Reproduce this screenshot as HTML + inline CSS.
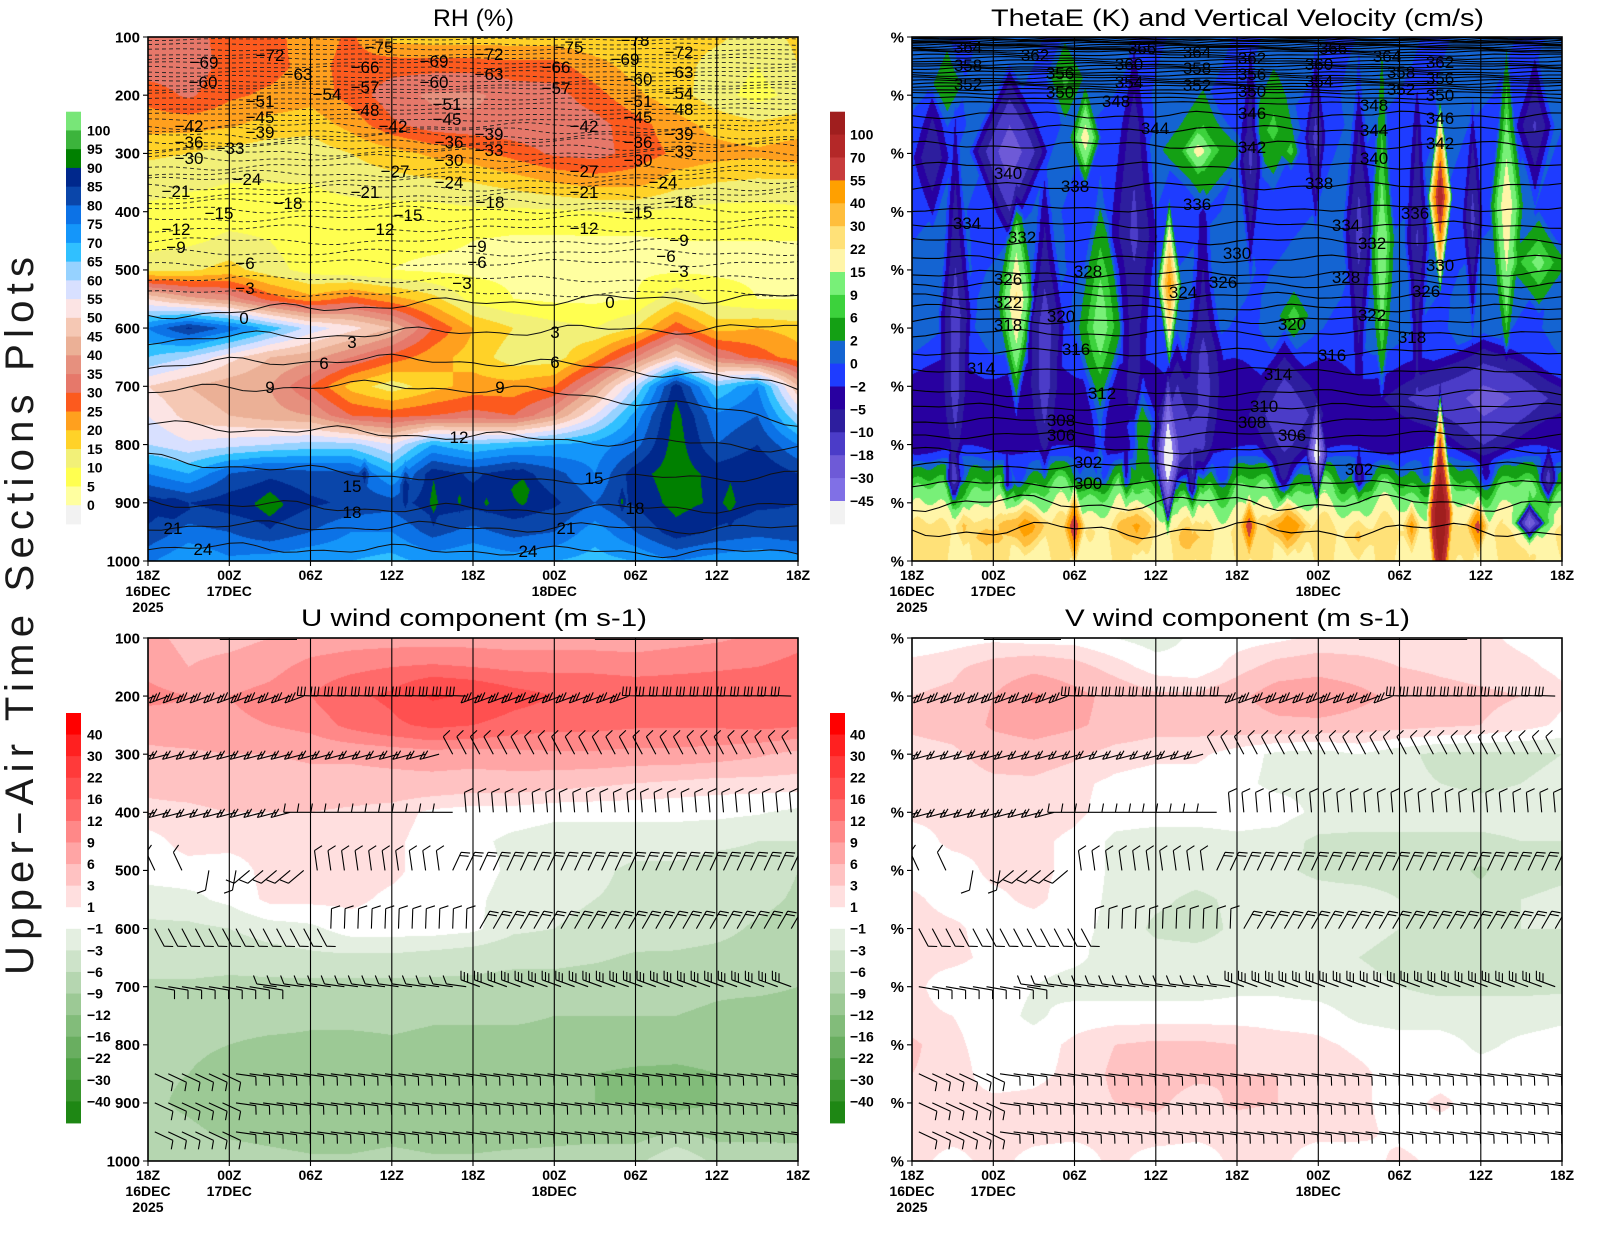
<!DOCTYPE html>
<html><head><meta charset="utf-8">
<style>
html,body{margin:0;padding:0;background:#fff;}
#wrap{position:relative;width:1600px;height:1236px;overflow:hidden;background:#fff;}
canvas{position:absolute;}
#ov{position:absolute;left:0;top:0;}
text{font-family:"Liberation Sans",sans-serif;}
</style></head><body>
<div id="wrap">
<canvas id="c1" width="650" height="524" style="left:148px;top:37px;background:linear-gradient(to bottom,#e6786a 0%,#ffa01e 28%,#ffff50 45%,#fce4e4 55%,#1496fa 75%,#0a46aa 92%)"></canvas>
<canvas id="c2" width="650" height="524" style="left:912px;top:37px;background:linear-gradient(to bottom,#1464d2 0%,#2d1e9e 60%,#3cd23c 86%,#ffe178 92%)"></canvas>
<canvas id="c3" width="650" height="523" style="left:148px;top:638px;background:linear-gradient(to bottom,#ffa5a5 0%,#ff6a6a 12%,#ffc2c2 35%,#ffffff 50%,#cde3c9 62%,#9cc995 85%)"></canvas>
<canvas id="c4" width="650" height="523" style="left:912px;top:638px;background:linear-gradient(to bottom,#ffffff 0%,#ffa5a5 12%,#ffdfdf 35%,#e4efe1 55%,#ffdfdf 85%)"></canvas>
<svg id="ov" width="1600" height="1236" xmlns="http://www.w3.org/2000/svg">
<defs>
<clipPath id="k1"><rect x="148" y="37" width="650" height="524"/></clipPath>
<clipPath id="k2"><rect x="912" y="37" width="650" height="524"/></clipPath>
<clipPath id="k3"><rect x="148" y="638" width="650" height="523"/></clipPath>
<clipPath id="k4"><rect x="912" y="638" width="650" height="523"/></clipPath>
</defs>
<g id="g1" clip-path="url(#k1)"></g>
<g id="g2" clip-path="url(#k2)"></g>
<g id="g3" clip-path="url(#k3)"></g>
<g id="g4" clip-path="url(#k4)"></g>
<g id="grid" stroke="#000" stroke-width="1.1"></g>
<g fill="none" stroke="#000" stroke-width="1.6">
<rect x="148" y="37" width="650" height="524"/>
<rect x="912" y="37" width="650" height="524"/>
<rect x="148" y="638" width="650" height="523"/>
<rect x="912" y="638" width="650" height="523"/>
</g>
<g id="cbars"></g>

<!-- titles -->
<g font-size="24" fill="#000">
<text x="433" y="26" textLength="81" lengthAdjust="spacingAndGlyphs">RH (%)</text>
<text x="991" y="26" textLength="493" lengthAdjust="spacingAndGlyphs">ThetaE (K) and Vertical Velocity (cm/s)</text>
<text x="301" y="626" textLength="346" lengthAdjust="spacingAndGlyphs">U wind component (m s-1)</text>
<text x="1065" y="626" textLength="345" lengthAdjust="spacingAndGlyphs">V wind component (m s-1)</text>
</g>
<text transform="translate(33,975) rotate(-90)" font-size="40" fill="#1a1a1a" textLength="718" lengthAdjust="spacing">Upper−Air Time Sections Plots</text>

<!-- y axis labels -->
<g font-size="15" font-weight="bold" text-anchor="end" fill="#000">
<text x="140" y="37" dy=".35em">100</text><text x="140" y="95.2" dy=".35em">200</text><text x="140" y="153.4" dy=".35em">300</text><text x="140" y="211.7" dy=".35em">400</text><text x="140" y="269.9" dy=".35em">500</text><text x="140" y="328.1" dy=".35em">600</text><text x="140" y="386.3" dy=".35em">700</text><text x="140" y="444.6" dy=".35em">800</text><text x="140" y="502.8" dy=".35em">900</text><text x="140" y="561" dy=".35em">1000</text>
<text x="140" y="638" dy=".35em">100</text><text x="140" y="696.1" dy=".35em">200</text><text x="140" y="754.2" dy=".35em">300</text><text x="140" y="812.3" dy=".35em">400</text><text x="140" y="870.4" dy=".35em">500</text><text x="140" y="928.6" dy=".35em">600</text><text x="140" y="986.7" dy=".35em">700</text><text x="140" y="1044.8" dy=".35em">800</text><text x="140" y="1102.9" dy=".35em">900</text><text x="140" y="1161" dy=".35em">1000</text>
<text x="904" y="37" dy=".35em">%</text><text x="904" y="95.2" dy=".35em">%</text><text x="904" y="153.4" dy=".35em">%</text><text x="904" y="211.7" dy=".35em">%</text><text x="904" y="269.9" dy=".35em">%</text><text x="904" y="328.1" dy=".35em">%</text><text x="904" y="386.3" dy=".35em">%</text><text x="904" y="444.6" dy=".35em">%</text><text x="904" y="502.8" dy=".35em">%</text><text x="904" y="561" dy=".35em">%</text>
<text x="904" y="638" dy=".35em">%</text><text x="904" y="696.1" dy=".35em">%</text><text x="904" y="754.2" dy=".35em">%</text><text x="904" y="812.3" dy=".35em">%</text><text x="904" y="870.4" dy=".35em">%</text><text x="904" y="928.6" dy=".35em">%</text><text x="904" y="986.7" dy=".35em">%</text><text x="904" y="1044.8" dy=".35em">%</text><text x="904" y="1102.9" dy=".35em">%</text><text x="904" y="1161" dy=".35em">%</text>
</g>

<!-- x axis labels -->
<g font-size="14" font-weight="bold" text-anchor="middle" fill="#000">
<text x="148" y="580">18Z</text><text x="229.25" y="580">00Z</text><text x="310.5" y="580">06Z</text><text x="391.75" y="580">12Z</text><text x="473" y="580">18Z</text><text x="554.25" y="580">00Z</text><text x="635.5" y="580">06Z</text><text x="716.75" y="580">12Z</text><text x="798" y="580">18Z</text>
<text x="148" y="596">16DEC</text><text x="229.25" y="596">17DEC</text><text x="554.25" y="596">18DEC</text><text x="148" y="612">2025</text>
<text x="912" y="580">18Z</text><text x="993.25" y="580">00Z</text><text x="1074.5" y="580">06Z</text><text x="1155.75" y="580">12Z</text><text x="1237" y="580">18Z</text><text x="1318.25" y="580">00Z</text><text x="1399.5" y="580">06Z</text><text x="1480.75" y="580">12Z</text><text x="1562" y="580">18Z</text>
<text x="912" y="596">16DEC</text><text x="993.25" y="596">17DEC</text><text x="1318.25" y="596">18DEC</text><text x="912" y="612">2025</text>
<text x="148" y="1180">18Z</text><text x="229.25" y="1180">00Z</text><text x="310.5" y="1180">06Z</text><text x="391.75" y="1180">12Z</text><text x="473" y="1180">18Z</text><text x="554.25" y="1180">00Z</text><text x="635.5" y="1180">06Z</text><text x="716.75" y="1180">12Z</text><text x="798" y="1180">18Z</text>
<text x="148" y="1196">16DEC</text><text x="229.25" y="1196">17DEC</text><text x="554.25" y="1196">18DEC</text><text x="148" y="1212">2025</text>
<text x="912" y="1180">18Z</text><text x="993.25" y="1180">00Z</text><text x="1074.5" y="1180">06Z</text><text x="1155.75" y="1180">12Z</text><text x="1237" y="1180">18Z</text><text x="1318.25" y="1180">00Z</text><text x="1399.5" y="1180">06Z</text><text x="1480.75" y="1180">12Z</text><text x="1562" y="1180">18Z</text>
<text x="912" y="1196">16DEC</text><text x="993.25" y="1196">17DEC</text><text x="1318.25" y="1196">18DEC</text><text x="912" y="1212">2025</text>
</g>

<!-- colorbar labels -->
<g font-size="14" font-weight="bold" fill="#000">
<text x="87" y="130.4" dy=".35em">100</text><text x="87" y="149.2" dy=".35em">95</text><text x="87" y="167.9" dy=".35em">90</text><text x="87" y="186.7" dy=".35em">85</text><text x="87" y="205.4" dy=".35em">80</text><text x="87" y="224.1" dy=".35em">75</text><text x="87" y="242.9" dy=".35em">70</text><text x="87" y="261.6" dy=".35em">65</text><text x="87" y="280.4" dy=".35em">60</text><text x="87" y="299.1" dy=".35em">55</text><text x="87" y="317.8" dy=".35em">50</text><text x="87" y="336.6" dy=".35em">45</text><text x="87" y="355.3" dy=".35em">40</text><text x="87" y="374.1" dy=".35em">35</text><text x="87" y="392.8" dy=".35em">30</text><text x="87" y="411.5" dy=".35em">25</text><text x="87" y="430.3" dy=".35em">20</text><text x="87" y="449" dy=".35em">15</text><text x="87" y="467.8" dy=".35em">10</text><text x="87" y="486.5" dy=".35em">5</text><text x="87" y="505.2" dy=".35em">0</text>
<text x="850" y="134.6" dy=".35em">100</text><text x="850" y="157.5" dy=".35em">70</text><text x="850" y="180.4" dy=".35em">55</text><text x="850" y="203.3" dy=".35em">40</text><text x="850" y="226.2" dy=".35em">30</text><text x="850" y="249.1" dy=".35em">22</text><text x="850" y="272" dy=".35em">15</text><text x="850" y="294.9" dy=".35em">9</text><text x="850" y="317.8" dy=".35em">6</text><text x="850" y="340.7" dy=".35em">2</text><text x="850" y="363.6" dy=".35em">0</text><text x="850" y="386.5" dy=".35em">−2</text><text x="850" y="409.4" dy=".35em">−5</text><text x="850" y="432.3" dy=".35em">−10</text><text x="850" y="455.2" dy=".35em">−18</text><text x="850" y="478.1" dy=".35em">−30</text><text x="850" y="501" dy=".35em">−45</text>
<text x="87" y="734.6" dy=".35em">40</text><text x="87" y="756.2" dy=".35em">30</text><text x="87" y="777.7" dy=".35em">22</text><text x="87" y="799.3" dy=".35em">16</text><text x="87" y="820.9" dy=".35em">12</text><text x="87" y="842.5" dy=".35em">9</text><text x="87" y="864.1" dy=".35em">6</text><text x="87" y="885.7" dy=".35em">3</text><text x="87" y="907.2" dy=".35em">1</text><text x="87" y="928.8" dy=".35em">−1</text><text x="87" y="950.4" dy=".35em">−3</text><text x="87" y="972" dy=".35em">−6</text><text x="87" y="993.6" dy=".35em">−9</text><text x="87" y="1015.1" dy=".35em">−12</text><text x="87" y="1036.7" dy=".35em">−16</text><text x="87" y="1058.3" dy=".35em">−22</text><text x="87" y="1079.9" dy=".35em">−30</text><text x="87" y="1101.4" dy=".35em">−40</text>
<text x="850" y="734.6" dy=".35em">40</text><text x="850" y="756.2" dy=".35em">30</text><text x="850" y="777.7" dy=".35em">22</text><text x="850" y="799.3" dy=".35em">16</text><text x="850" y="820.9" dy=".35em">12</text><text x="850" y="842.5" dy=".35em">9</text><text x="850" y="864.1" dy=".35em">6</text><text x="850" y="885.7" dy=".35em">3</text><text x="850" y="907.2" dy=".35em">1</text><text x="850" y="928.8" dy=".35em">−1</text><text x="850" y="950.4" dy=".35em">−3</text><text x="850" y="972" dy=".35em">−6</text><text x="850" y="993.6" dy=".35em">−9</text><text x="850" y="1015.1" dy=".35em">−12</text><text x="850" y="1036.7" dy=".35em">−16</text><text x="850" y="1058.3" dy=".35em">−22</text><text x="850" y="1079.9" dy=".35em">−30</text><text x="850" y="1101.4" dy=".35em">−40</text>
</g>

<!-- RH contour labels -->
<g font-size="17" text-anchor="middle" fill="#000" clip-path="url(#k1)">
<text x="204" y="62" dy=".35em">−69</text><text x="203" y="82" dy=".35em">−60</text><text x="270" y="55" dy=".35em">−72</text><text x="298" y="74" dy=".35em">−63</text><text x="327" y="94" dy=".35em">−54</text>
<text x="379" y="47" dy=".35em">−75</text><text x="365" y="67" dy=".35em">−66</text><text x="365" y="87" dy=".35em">−57</text><text x="365" y="110" dy=".35em">−48</text>
<text x="434" y="61" dy=".35em">−69</text><text x="434" y="82" dy=".35em">−60</text><text x="447" y="104" dy=".35em">−51</text><text x="447" y="119" dy=".35em">−45</text><text x="393" y="126" dy=".35em">−42</text><text x="449" y="142" dy=".35em">−36</text><text x="449" y="160" dy=".35em">−30</text>
<text x="489" y="54" dy=".35em">−72</text><text x="489" y="74" dy=".35em">−63</text><text x="489" y="134" dy=".35em">−39</text><text x="489" y="150" dy=".35em">−33</text>
<text x="569" y="47" dy=".35em">−75</text><text x="556" y="67" dy=".35em">−66</text><text x="556" y="88" dy=".35em">−57</text><text x="584" y="126" dy=".35em">−42</text><text x="584" y="171" dy=".35em">−27</text><text x="584" y="192" dy=".35em">−21</text><text x="584" y="228" dy=".35em">−12</text>
<text x="635" y="40" dy=".35em">−78</text><text x="625" y="59" dy=".35em">−69</text><text x="638" y="79" dy=".35em">−60</text><text x="638" y="101" dy=".35em">−51</text><text x="638" y="117" dy=".35em">−45</text><text x="638" y="142" dy=".35em">−36</text><text x="638" y="160" dy=".35em">−30</text><text x="638" y="212" dy=".35em">−15</text>
<text x="679" y="52" dy=".35em">−72</text><text x="679" y="72" dy=".35em">−63</text><text x="679" y="93" dy=".35em">−54</text><text x="679" y="109" dy=".35em">−48</text><text x="679" y="134" dy=".35em">−39</text><text x="679" y="151" dy=".35em">−33</text><text x="663" y="182" dy=".35em">−24</text><text x="679" y="202" dy=".35em">−18</text><text x="679" y="240" dy=".35em">−9</text><text x="666" y="256" dy=".35em">−6</text><text x="679" y="271" dy=".35em">−3</text>
<text x="189" y="126" dy=".35em">−42</text><text x="189" y="142" dy=".35em">−36</text><text x="189" y="158" dy=".35em">−30</text><text x="230" y="148" dy=".35em">−33</text><text x="260" y="101" dy=".35em">−51</text><text x="260" y="117" dy=".35em">−45</text><text x="260" y="132" dy=".35em">−39</text>
<text x="176" y="191" dy=".35em">−21</text><text x="247" y="179" dy=".35em">−24</text><text x="288" y="203" dy=".35em">−18</text><text x="219" y="213" dy=".35em">−15</text><text x="176" y="229" dy=".35em">−12</text><text x="176" y="247" dy=".35em">−9</text><text x="245" y="263" dy=".35em">−6</text><text x="245" y="288" dy=".35em">−3</text>
<text x="244" y="318" dy=".35em">0</text><text x="352" y="342" dy=".35em">3</text><text x="324" y="363" dy=".35em">6</text><text x="270" y="387" dy=".35em">9</text>
<text x="395" y="171" dy=".35em">−27</text><text x="365" y="192" dy=".35em">−21</text><text x="408" y="215" dy=".35em">−15</text><text x="380" y="229" dy=".35em">−12</text>
<text x="449" y="182" dy=".35em">−24</text><text x="490" y="202" dy=".35em">−18</text><text x="477" y="246" dy=".35em">−9</text><text x="477" y="262" dy=".35em">−6</text><text x="462" y="283" dy=".35em">−3</text>
<text x="500" y="387" dy=".35em">9</text><text x="459" y="437" dy=".35em">12</text><text x="352" y="486" dy=".35em">15</text><text x="352" y="512" dy=".35em">18</text><text x="173" y="528" dy=".35em">21</text><text x="203" y="549" dy=".35em">24</text>
<text x="610" y="302" dy=".35em">0</text><text x="555" y="332" dy=".35em">3</text><text x="555" y="362" dy=".35em">6</text><text x="594" y="478" dy=".35em">15</text><text x="635" y="508" dy=".35em">18</text><text x="566" y="528" dy=".35em">21</text><text x="528" y="551" dy=".35em">24</text>
</g>

<!-- ThetaE labels -->
<g font-size="17" text-anchor="middle" fill="#000" clip-path="url(#k2)">
<text x="968" y="47" dy=".35em">364</text><text x="968" y="65" dy=".35em">358</text><text x="968" y="84" dy=".35em">352</text>
<text x="1035" y="55" dy=".35em">362</text><text x="1060" y="73" dy=".35em">356</text><text x="1060" y="92" dy=".35em">350</text><text x="1116" y="101" dy=".35em">348</text>
<text x="1142" y="48" dy=".35em">366</text><text x="1129" y="64" dy=".35em">360</text><text x="1129" y="82" dy=".35em">354</text>
<text x="1197" y="52" dy=".35em">364</text><text x="1197" y="68" dy=".35em">358</text><text x="1197" y="85" dy=".35em">352</text><text x="1155" y="128" dy=".35em">344</text>
<text x="1252" y="58" dy=".35em">362</text><text x="1252" y="74" dy=".35em">356</text><text x="1252" y="91" dy=".35em">350</text><text x="1252" y="113" dy=".35em">346</text><text x="1252" y="147" dy=".35em">342</text>
<text x="1333" y="48" dy=".35em">366</text><text x="1319" y="64" dy=".35em">360</text><text x="1319" y="81" dy=".35em">354</text><text x="1319" y="183" dy=".35em">338</text>
<text x="1387" y="56" dy=".35em">364</text><text x="1401" y="72" dy=".35em">358</text><text x="1401" y="89" dy=".35em">352</text><text x="1374" y="105" dy=".35em">348</text><text x="1374" y="130" dy=".35em">344</text><text x="1374" y="158" dy=".35em">340</text>
<text x="1440" y="62" dy=".35em">362</text><text x="1440" y="78" dy=".35em">356</text><text x="1440" y="95" dy=".35em">350</text><text x="1440" y="118" dy=".35em">346</text><text x="1440" y="143" dy=".35em">342</text><text x="1415" y="213" dy=".35em">336</text>
<text x="1008" y="173" dy=".35em">340</text><text x="1075" y="186" dy=".35em">338</text><text x="1197" y="204" dy=".35em">336</text><text x="967" y="223" dy=".35em">334</text><text x="1022" y="237" dy=".35em">332</text>
<text x="1346" y="225" dy=".35em">334</text><text x="1372" y="243" dy=".35em">332</text><text x="1237" y="253" dy=".35em">330</text><text x="1440" y="265" dy=".35em">330</text>
<text x="1088" y="271" dy=".35em">328</text><text x="1346" y="277" dy=".35em">328</text><text x="1008" y="279" dy=".35em">326</text><text x="1223" y="282" dy=".35em">326</text><text x="1426" y="291" dy=".35em">326</text><text x="1183" y="292" dy=".35em">324</text>
<text x="1008" y="302" dy=".35em">322</text><text x="1372" y="315" dy=".35em">322</text><text x="1061" y="316" dy=".35em">320</text><text x="1292" y="324" dy=".35em">320</text><text x="1008" y="325" dy=".35em">318</text><text x="1412" y="337" dy=".35em">318</text>
<text x="1076" y="349" dy=".35em">316</text><text x="1332" y="355" dy=".35em">316</text><text x="981" y="368" dy=".35em">314</text><text x="1278" y="374" dy=".35em">314</text><text x="1102" y="393" dy=".35em">312</text><text x="1264" y="406" dy=".35em">310</text>
<text x="1061" y="420" dy=".35em">308</text><text x="1252" y="422" dy=".35em">308</text><text x="1061" y="435" dy=".35em">306</text><text x="1292" y="435" dy=".35em">306</text><text x="1088" y="462" dy=".35em">302</text><text x="1359" y="469" dy=".35em">302</text><text x="1088" y="483" dy=".35em">300</text>
</g>
</svg>
</div>
<script>
(function(){
var NS='http://www.w3.org/2000/svg';
function hex(h){return [parseInt(h.substr(1,2),16),parseInt(h.substr(3,2),16),parseInt(h.substr(5,2),16)];}
function gridF(G){return function(t,p){var fx=t/3,fy=(p-100)/50;var i=Math.max(0,Math.min(15,Math.floor(fx))),j=Math.max(0,Math.min(17,Math.floor(fy)));var ax=fx-i,ay=fy-j;return G[j][i]*(1-ax)*(1-ay)+G[j][i+1]*ax*(1-ay)+G[j+1][i]*(1-ax)*ay+G[j+1][i+1]*ax*ay;};}
function blobF(B){return function(t,p){var v=0;for(var k=0;k<B.length;k++){var b=B[k];var d=Math.abs(t-b[0])/b[2]+Math.abs(p-b[1])/b[3];if(d<1)v+=b[4]*(1-d);}return v;};}
function paint(id,f,th,cols){
  var c=document.getElementById(id);if(!c.getContext)return;var ctx=c.getContext('2d');
  var W=c.width,H=c.height;var img=ctx.createImageData(W,H);var d=img.data;
  var rgb=cols.map(hex);
  for(var y=0;y<H;y++){var p=100+(y+0.5)/H*900;
    for(var x=0;x<W;x++){var t=(x+0.5)/W*48;var v=f(t,p);
      var k=0;while(k<th.length&&v>=th[k])k++;
      var cc=rgb[k];var o=(y*W+x)*4;d[o]=cc[0];d[o+1]=cc[1];d[o+2]=cc[2];d[o+3]=255;}}
  ctx.putImageData(img,0,0);
}
/* ---------- RH ---------- */
var RH=[
[32,32,28,27,22,26,18,17,17,17,17,16,17,17,16,13,16],
[33,33,28,27,23,27,28,28,28,27,27,22,18,17,13,10,15],
[27,31,26,24,22,27,33,36,36,33,32,27,21,17,12,8,12],
[22,22,21,18,17,22,29,33,34,34,34,32,27,22,18,16,17],
[16,15,13,12,12,15,18,21,23,27,31,32,28,24,22,21,23],
[12,11,10,10,10,12,13,14,15,17,20,22,22,17,15,14,14],
[9,8,8,8,8,8,8,8,9,9,9,10,10,9,8,8,9],
[8,9,11,10,7,6,6,6,5,4,4,4,4,5,5,5,5],
[13,14,17,12,8,6,5,4,4,4,4,4,4,4,4,4,4],
[50,42,38,28,22,27,22,17,8,5,4,4,5,14,8,5,5],
[75,86,78,68,58,52,45,30,20,15,12,10,15,28,18,20,18],
[65,60,52,45,42,35,28,22,18,12,12,22,35,50,35,28,22],
[50,45,42,40,30,18,12,18,22,22,25,40,60,88,65,75,45],
[55,48,45,42,40,30,28,30,32,30,40,55,72,92,76,80,60],
[60,56,58,60,62,62,55,70,65,68,70,72,78,93,80,85,75],
[75,70,80,84,82,82,70,88,84,88,82,75,88,93,88,90,85],
[88,85,88,90,86,84,82,88,87,89,86,80,86,92,89,86,85],
[84,78,80,84,80,75,75,82,78,82,80,72,80,88,84,82,84],
[76,70,74,72,70,70,68,72,70,72,70,68,70,75,72,70,72]];
var RHB=[[1.9,912,1.8,30,5],[9,905,1.5,45,5],[16,850,0.5,35,10],[19,870,0.5,50,10],[21.1,900,0.5,60,6],[23,895,0.35,25,5],[25,900,0.35,18,5],[27.7,878,1.3,50,5],[35,898,0.35,30,8],[43,900,0.8,50,5]];
var rg=gridF(RH),rb=blobF(RHB);
paint('c1',function(t,p){return rg(t,p)+rb(t,p);},[0,5,10,15,20,25,30,35,40,45,50,55,60,65,70,75,80,85,90,95,100],
['#f2f2f2','#ffffa0','#ffff50','#f2f078','#ffd228','#ffa01e','#fc5a1e','#e6786a','#e6907e','#ebb096','#f5c8b4','#fce4e4','#d8e0ff','#96d2ff','#30c0ff','#1496fa','#0c72e6','#0a46aa','#00288c','#008000','#3cb43c','#78e678']);
/* ---------- ThetaE / w ---------- */
var TB=[0.5,0.5,0.3,-0.5,-0.5,-0.5,-0.5,0.3,0.8,0.8,0.5,-1,-3.5,-4,-3,2.5,13,24,21];
var TEB=[[1.5,307,1.5,130,-8],[2.6,181,1.6,90,6],[7.2,297,3,160,-24],[3.2,579,1.3,380,-14],[7.7,552,1.4,230,22],[9.8,599,1.6,300,-14],[11.3,171,1.5,90,7],[12.8,273,1.2,90,20],[13.9,599,1.8,300,11],[16.4,443,2,380,-13],[17,769,1.5,110,9],[21.5,294,3.5,120,11],[21.1,297,1.2,45,10],[19,524,0.9,150,48],[18.9,823,0.9,150,-60],[19.6,796,2.2,200,-15],[21.5,647,1.5,330,-12],[25,307,1,220,-12],[26.7,260,2.5,120,7],[28,297,0.8,40,8],[28.2,579,1.2,45,7],[27.5,749,3,160,-13],[29.9,817,0.8,100,-60],[29.8,273,0.8,170,-11],[34.7,443,1.0,330,15],[33,436,1.2,330,-12],[37.3,450,1,300,-12],[42.2,721,8,120,-18],[39,918,1.0,230,140],[39,375,0.9,170,90],[43.9,389,1.3,290,22],[46.3,487,2.5,90,11],[41.4,416,0.8,230,-11],[46,253,1.5,140,-11],
[8.3,939,2.2,60,30],[12,939,0.8,80,55],[16.6,939,1.8,55,22],[24.9,939,0.7,60,48],[27.7,939,1.8,60,38],[36.9,939,0.7,50,25],[41.8,939,0.9,60,45],[45.6,935,1.2,40,-40],[45.6,935,2.2,70,-18],[3.8,939,0.9,50,15],[5.5,960,1.5,50,10],[20.5,960,1.5,50,10],[33,960,1.5,50,10],
[3,860,0.7,70,-14],[7,870,0.6,60,-12],[15.8,865,0.6,70,-12],[20.7,880,0.6,90,-14],[33,860,0.6,60,-10],[47,860,0.8,60,-12]];
var tb=blobF(TEB);
paint('c2',function(t,p){var fy=(p-100)/50;var j=Math.max(0,Math.min(17,Math.floor(fy)));var a=fy-j;var v=TB[j]*(1-a)+TB[j+1]*a;if(p<880)v+=0.9*Math.sin(t*0.9+p*0.013);if(p>820)v+=(3.5*Math.sin(t*1.3)+2.5*Math.sin(t*2.9+1))*Math.min(1,(p-820)/40);return v+tb(t,p);},
[-45,-30,-18,-10,-5,-2,0,2,6,9,15,22,30,40,55,70,100],
['#f2f2f2','#8070e6','#6e5ad7','#4b3cc8','#2d1e9e','#2800a0','#1e3cff','#1464d2','#14a014','#3cd23c','#78f078','#fff5a8','#ffe178','#ffbe3c','#ffa000','#c83c3c','#b42828','#a01e1e']);
/* ---------- U, V ---------- */
var UVT=[-40,-30,-22,-16,-12,-9,-6,-3,-1,1,3,6,9,12,16,22,30,40];
var UVC=['#1e8714','#38952d','#50a246','#69ae60','#82bc7a','#9cc995','#b5d6b0','#cde3c9','#e4efe1','#ffffff','#ffdfdf','#ffc2c2','#ffa5a5','#ff8888','#ff6a6a','#ff5050','#ff3a3a','#ff2020','#ff0000'];
var U=[
[7,5,5,6,7,7.5,7.5,7.5,7.5,7.5,7.5,7.5,7.5,8,8.5,9.5,11],
[8,6,7,8,10,11,12,12.5,12,11,11,11,10.5,11,11.5,12,13],
[10,9,9,10,12,15,17,23,21,18,16,15.5,15,15,15,16,16],
[7,8,8.5,9,10,13,15,17,16,14,13,13,12.5,12.5,12.5,13,12.5],
[5.5,5.5,6,6,6.5,6.5,7,7.5,7.5,8,8.5,8.5,8,8,7.5,6.5,5],
[3.5,4,4.5,4.5,5,5,5,5,4.5,4.5,4,3.5,3,2.5,2,2,2],
[2.5,2.5,3,3,3,2.5,2,0.5,0,0,-0.5,-0.5,-0.5,-0.5,-0.5,-0.8,-1.5],
[0,2,2,2,2,2,1.5,0,-0.5,-1.5,-2,-2,-2,-2,-2.5,-3,-3],
[0,0,-0.5,2,2,2,1.5,0,0,-1.5,-2,-2.5,-3.5,-3.5,-4,-4,-6],
[-2,-1.5,-0.5,1.5,1.5,1.5,0.5,0,-0.5,-2,-2.5,-3,-3.5,-3.5,-4.5,-5,-6.5],
[-3.5,-3.5,-3,-2,-1.5,0,0,0,-0.5,-2.5,-3,-3.5,-4,-4.5,-5,-6.5,-7.5],
[-4.5,-4.5,-4.5,-4,-3.5,-3.5,-3.5,-4,-4.5,-5,-5,-5.5,-6.5,-6.5,-7,-7.5,-9],
[-6.5,-6.5,-7,-7,-7,-7,-7,-7,-7,-7.5,-7.5,-8,-8,-8,-8.5,-8.5,-9],
[-7,-7.5,-8,-8,-8.5,-8,-8,-8.5,-8.5,-8.5,-9,-9,-9,-9,-9.5,-10,-10],
[-8,-8.5,-9,-9.5,-9.5,-10,-9.5,-10,-10,-10,-10,-10.5,-10.5,-11,-11,-11,-11],
[-8.5,-9,-10,-10.5,-11,-11.5,-11,-11.5,-11,-11.5,-11.5,-12,-12.5,-12.5,-12,-11.5,-11],
[-8.5,-9.5,-10.5,-11,-11.5,-11.5,-11,-11.5,-11.5,-11.5,-11.5,-12,-12,-13,-12,-11.5,-11],
[-8,-8.5,-9.5,-10,-10.5,-10.5,-10,-10.5,-10.5,-10.5,-10,-10,-10.5,-9,-10,-10,-10],
[-7,-7,-7.5,-8,-8.5,-8.5,-8,-8.5,-8.5,-8,-8,-7.5,-7,-3,-7,-7,-7.5]];
var V=[
[-1,0,0.5,0,0,-1,-2,-0.5,0,0.5,1.5,1.5,1.5,1.5,1.5,0.5,0],
[2,2.5,4,5,4,2,0,-0.5,2,4,4.5,4,3,2.5,2,1.5,0.5],
[3,3.5,6,9.5,7,5,3.5,3.5,5,8,9,7,5,4,3.5,3,1.5],
[3.5,4,6.5,7.5,6.5,5,4,4,4.5,5,5,4.5,4,3.5,3,2,0.5],
[2,2.5,4,4.5,3.5,2,1.5,1.5,0,-1.5,-2,-1,-2.5,-3.5,-3.5,-3.5,-3],
[2,2,2.5,2.5,1.5,0.5,0,0,-0.5,-1.5,-1.5,-1.5,-2.5,-3,-3.5,-3,-2.5],
[1.5,1.5,2,2,1.5,0,0,0,0,0,-1.5,-2,-2,-2,-2,-2,-2],
[0,1.5,1.5,1.5,0.5,-1.5,-2,-2,-1.5,-2,-3.5,-3.5,-3.5,-3.5,-3.5,-3,-3],
[0,0,1.5,1.5,0.5,-1.5,-2,-2,-2,-2.5,-3.5,-4,-4,-4.5,-6.5,-4,-3.5],
[1.5,0,0.5,1.5,0,-1.5,-2.5,-3.5,-2.5,-2,-2,-2,-3,-4.5,-5,-3,-2.5],
[2,1.5,0,0,-0.5,-1.5,-3.5,-4,-2.5,-2,-2,-2.5,-3,-4.5,-3.5,-3,-3],
[1.5,1.5,0.5,0,-0.5,-2,-2,-2,-2,-2,-2.5,-3,-3.5,-3.5,-3.5,-3.5,-3.5],
[1.5,0,0,-1,-2,-2,-2,-2,-1.5,-1.5,-2,-2.5,-3,-3.5,-3.5,-3.5,-3.5],
[1.5,1,0,-1.5,0,0,0,0,0,0,0,-1.5,-2,-2,-2,-2,-1.5],
[3.5,1.5,0,0,1.5,3,3.5,3.5,3,2,1.5,0.5,0,0,-1.5,-0.5,0],
[3,2,0,0.5,1.5,3.5,4,3.5,3,3,2.5,1.5,0,0,0,0,0],
[2,1.5,1.5,1.5,2,3,3.5,2,3.5,3,2,1.5,0,1.5,0,0,0],
[1.5,1.5,1.5,1.5,1.5,1.5,2,1.5,1.5,1.5,1.5,1.5,0.5,0,0.5,0,0],
[1.5,0.5,1.5,0.5,0,1.5,0,0,1.5,1.5,0,0,1.5,0.5,0,0,0]];
paint('c3',gridF(U),UVT,UVC);
paint('c4',gridF(V),UVT,UVC);

/* ---------- SVG overlays ---------- */
function path(par,d,at){var e=document.createElementNS(NS,'path');e.setAttribute('d',d);for(var k in at)e.setAttribute(k,at[k]);par.appendChild(e);}
function P(x,y,w,h){return {x:x,y:y,w:w,h:h};}
var P1=P(148,37,650,524),P2=P(912,37,650,524),P3=P(148,638,650,523),P4=P(912,638,650,523);
function X(Pn,t){return Pn.x+t/48*Pn.w;}
function Y(Pn,p){return Pn.y+(p-100)/900*Pn.h;}
/* grid lines */
var gg=document.getElementById('grid');var gd='';
[P1,P2,P3,P4].forEach(function(Pn){
  for(var i=1;i<8;i++){var x=(Pn.x+i*Pn.w/8).toFixed(1);gd+='M'+x+' '+Pn.y+'V'+(Pn.y+Pn.h);}
  for(var i=0;i<=8;i++){var x=(Pn.x+i*Pn.w/8).toFixed(1);gd+='M'+x+' '+(Pn.y+Pn.h)+'v5';}
  for(var k=0;k<=9;k++){var y=(Pn.y+k*Pn.h/9).toFixed(1);gd+='M'+(Pn.x-5)+' '+y+'H'+Pn.x;}
});
path(gg,gd,{fill:'none'});
/* colorbars */
var cb=document.getElementById('cbars');
function bar(x,y0,bh,cols){for(var i=0;i<cols.length;i++){var r=document.createElementNS(NS,'rect');r.setAttribute('x',x);r.setAttribute('y',(y0+i*bh).toFixed(2));r.setAttribute('width',15);r.setAttribute('height',(bh+0.4).toFixed(2));r.setAttribute('fill',cols[i]);cb.appendChild(r);}}
bar(66,111.7,18.74,['#78e678','#3cb43c','#008000','#00288c','#0a46aa','#0c72e6','#1496fa','#30c0ff','#96d2ff','#d8e0ff','#fce4e4','#f5c8b4','#ebb096','#e6907e','#e6786a','#fc5a1e','#ffa01e','#ffd228','#f2f078','#ffff50','#ffffa0','#f2f2f2']);
bar(830,111.7,22.9,['#a01e1e','#b42828','#c83c3c','#ffa000','#ffbe3c','#ffe178','#fff5a8','#78f078','#3cd23c','#14a014','#1464d2','#1e3cff','#2800a0','#2d1e9e','#4b3cc8','#6e5ad7','#8070e6','#f2f2f2']);
var uvr=UVC.slice().reverse();
bar(66,713,21.58,uvr);bar(830,713,21.58,uvr);
/* RH temperature contours */
var g1=document.getElementById('g1');
var Tt=[[-78,104],[-75,117],[-72,130],[-69,141],[-66,152],[-63,164],[-60,176],[-57,186],[-54,196],[-51,211],[-48,224],[-45,237],[-42,253],[-39,265],[-36,280],[-33,293],[-30,308],[-27,330],[-24,346],[-21,365],[-18,384],[-15,403],[-12,429],[-9,461],[-6,488],[-3,530],[0,560]];
function pOfT(T){for(var i=0;i<Tt.length-1;i++){var a=Tt[i],b=Tt[i+1];if(T>=a[0]&&T<=b[0])return a[1]+(b[1]-a[1])*(T-a[0])/(b[0]-a[0]);}return 560;}
var d='';var k=0;
for(var T=-80;T<0;T+=2,k++){var p0=pOfT(Math.max(T,-78));if(T<-78)p0=98;var am=p0<250?0.35:1;
  for(var t=0;t<=48;t+=1){var p=p0+am*(4*Math.sin(0.35*t+k*1.7)+2.5*Math.sin(0.9*t+k*0.6));d+=(t?'L':'M')+X(P1,t).toFixed(1)+' '+Y(P1,p).toFixed(1);}}
path(g1,d,{fill:'none',stroke:'#222','stroke-width':'0.9','stroke-dasharray':'4 3'});
var sol=[[0,578,556,547],[3,620,606,600],[6,667,657,700],[9,711,704,760],[12,766,786,805],[15,823,857,850],[18,898,911,905],[21,939,942,945],[24,976,982,986]];
d='';
sol.forEach(function(s,k){for(var t=0;t<=48;t+=1){var u=t/48;var l0=2*(u-0.5)*(u-1),l1=-4*u*(u-1),l2=2*u*(u-0.5);var p=s[1]*l0+s[2]*l1+s[3]*l2+6*Math.sin(0.5*t+k)+4*Math.sin(1.1*t+2*k);d+=(t?'L':'M')+X(P1,t).toFixed(1)+' '+Y(P1,p).toFixed(1);}});
path(g1,d,{fill:'none',stroke:'#111','stroke-width':'1'});
/* ThetaE contours */
var g2=document.getElementById('g2');
var TE=[[296,530],[298,503],[300,484],[302,466],[304,450],[306,435],[308,421],[310,407],[312,393],[314,371],[316,352],[318,333],[320,320],[322,308],[324,296],[326,284],[328,274],[330,259],[332,241],[334,225],[336,208],[338,186],[340,166],[342,145],[344,129],[346,115],[348,103],[350,93],[352,86],[354,81],[356,75],[358,69],[360,64],[362,58],[364,52],[366,48],[368,45],[370,42],[372,40],[374,38.5]];
function yTE(th){for(var i=0;i<TE.length-1;i++){var a=TE[i],b=TE[i+1];if(th>=a[0]&&th<=b[0])return a[1]+(b[1]-a[1])*(th-a[0])/(b[0]-a[0]);}return 38;}
d='';k=0;
for(var th=296;th<=374;th+=(th>=348?1:2),k++){var y0=yTE(th);var am=y0<110?0.35:(y0>495?2.2:1);
  for(var t=0;t<=48;t+=1){var y=y0+am*(2.5*Math.sin(0.45*t+k*1.3)+1.5*Math.sin(1.2*t+k*0.7));d+=(t?'L':'M')+X(P2,t).toFixed(1)+' '+y.toFixed(1);}}
path(g2,d,{fill:'none',stroke:'#000','stroke-width':'1.1'});
/* wind barbs */
var rows=[
 [200,[[0,12,160,135,3],[12,24,182,95,3],[24,36,160,135,3],[36,48,182,95,3]]],
 [300,[[0,22,165,135,2],[22,48,242,75,1]]],
 [400,[[0,11,165,135,2],[11,23,180,100,1],[23,48,265,70,1]]],
 [500,[[0,3.5,245,60,1],[3.5,7,100,60,1],[7,12,140,62,1],[12,22,262,65,1],[22,48,295,70,2]]],
 [600,[[0,13,62,-60,1],[13,24,272,70,1],[24,48,300,70,2]]],
 [700,[[0,9,10,80,1],[9,24,188,60,1],[24,48,200,70,3]]],
 [850,[[0,6,25,75,1],[6,48,8,80,1]]],
 [900,[[0,6,25,75,1],[6,48,8,80,1]]],
 [950,[[0,6,25,75,1],[6,48,8,80,1]]]];
function barbs(g,Pn){
  var s='';
  rows.forEach(function(r){var p=r[0];
    for(var t=0.5;t<48;t+=1){
      if(p===500&&t<7&&Math.floor(t)%2===1)continue;
      var seg=null;for(var i=0;i<r[1].length;i++){if(t>=r[1][i][0]&&t<r[1][i][1]){seg=r[1][i];break;}}
      if(!seg)continue;
      var ox=X(Pn,t),oy=Y(Pn,p);var a=seg[2]*Math.PI/180,L=20;
      var ex=ox+L*Math.cos(a),ey=oy+L*Math.sin(a);
      s+='M'+ox.toFixed(1)+' '+oy.toFixed(1)+'L'+ex.toFixed(1)+' '+ey.toFixed(1);
      var fa=(seg[2]+seg[3])*Math.PI/180;
      for(var f=0;f<seg[4];f++){var bx=ex-f*3.5*Math.cos(a),by=ey-f*3.5*Math.sin(a);
        s+='M'+bx.toFixed(1)+' '+by.toFixed(1)+'L'+(bx+9*Math.cos(fa)).toFixed(1)+' '+(by+9*Math.sin(fa)).toFixed(1);}
    }
  });
  s+='M'+X(Pn,5.3).toFixed(1)+' '+(Pn.y+1.5)+'H'+X(Pn,11).toFixed(1)+'M'+X(Pn,33).toFixed(1)+' '+(Pn.y+1.5)+'H'+X(Pn,41).toFixed(1);
  path(g,s,{fill:'none',stroke:'#000','stroke-width':'1.1'});
}
barbs(document.getElementById('g3'),P3);
barbs(document.getElementById('g4'),P4);
})();
</script>
</body></html>
